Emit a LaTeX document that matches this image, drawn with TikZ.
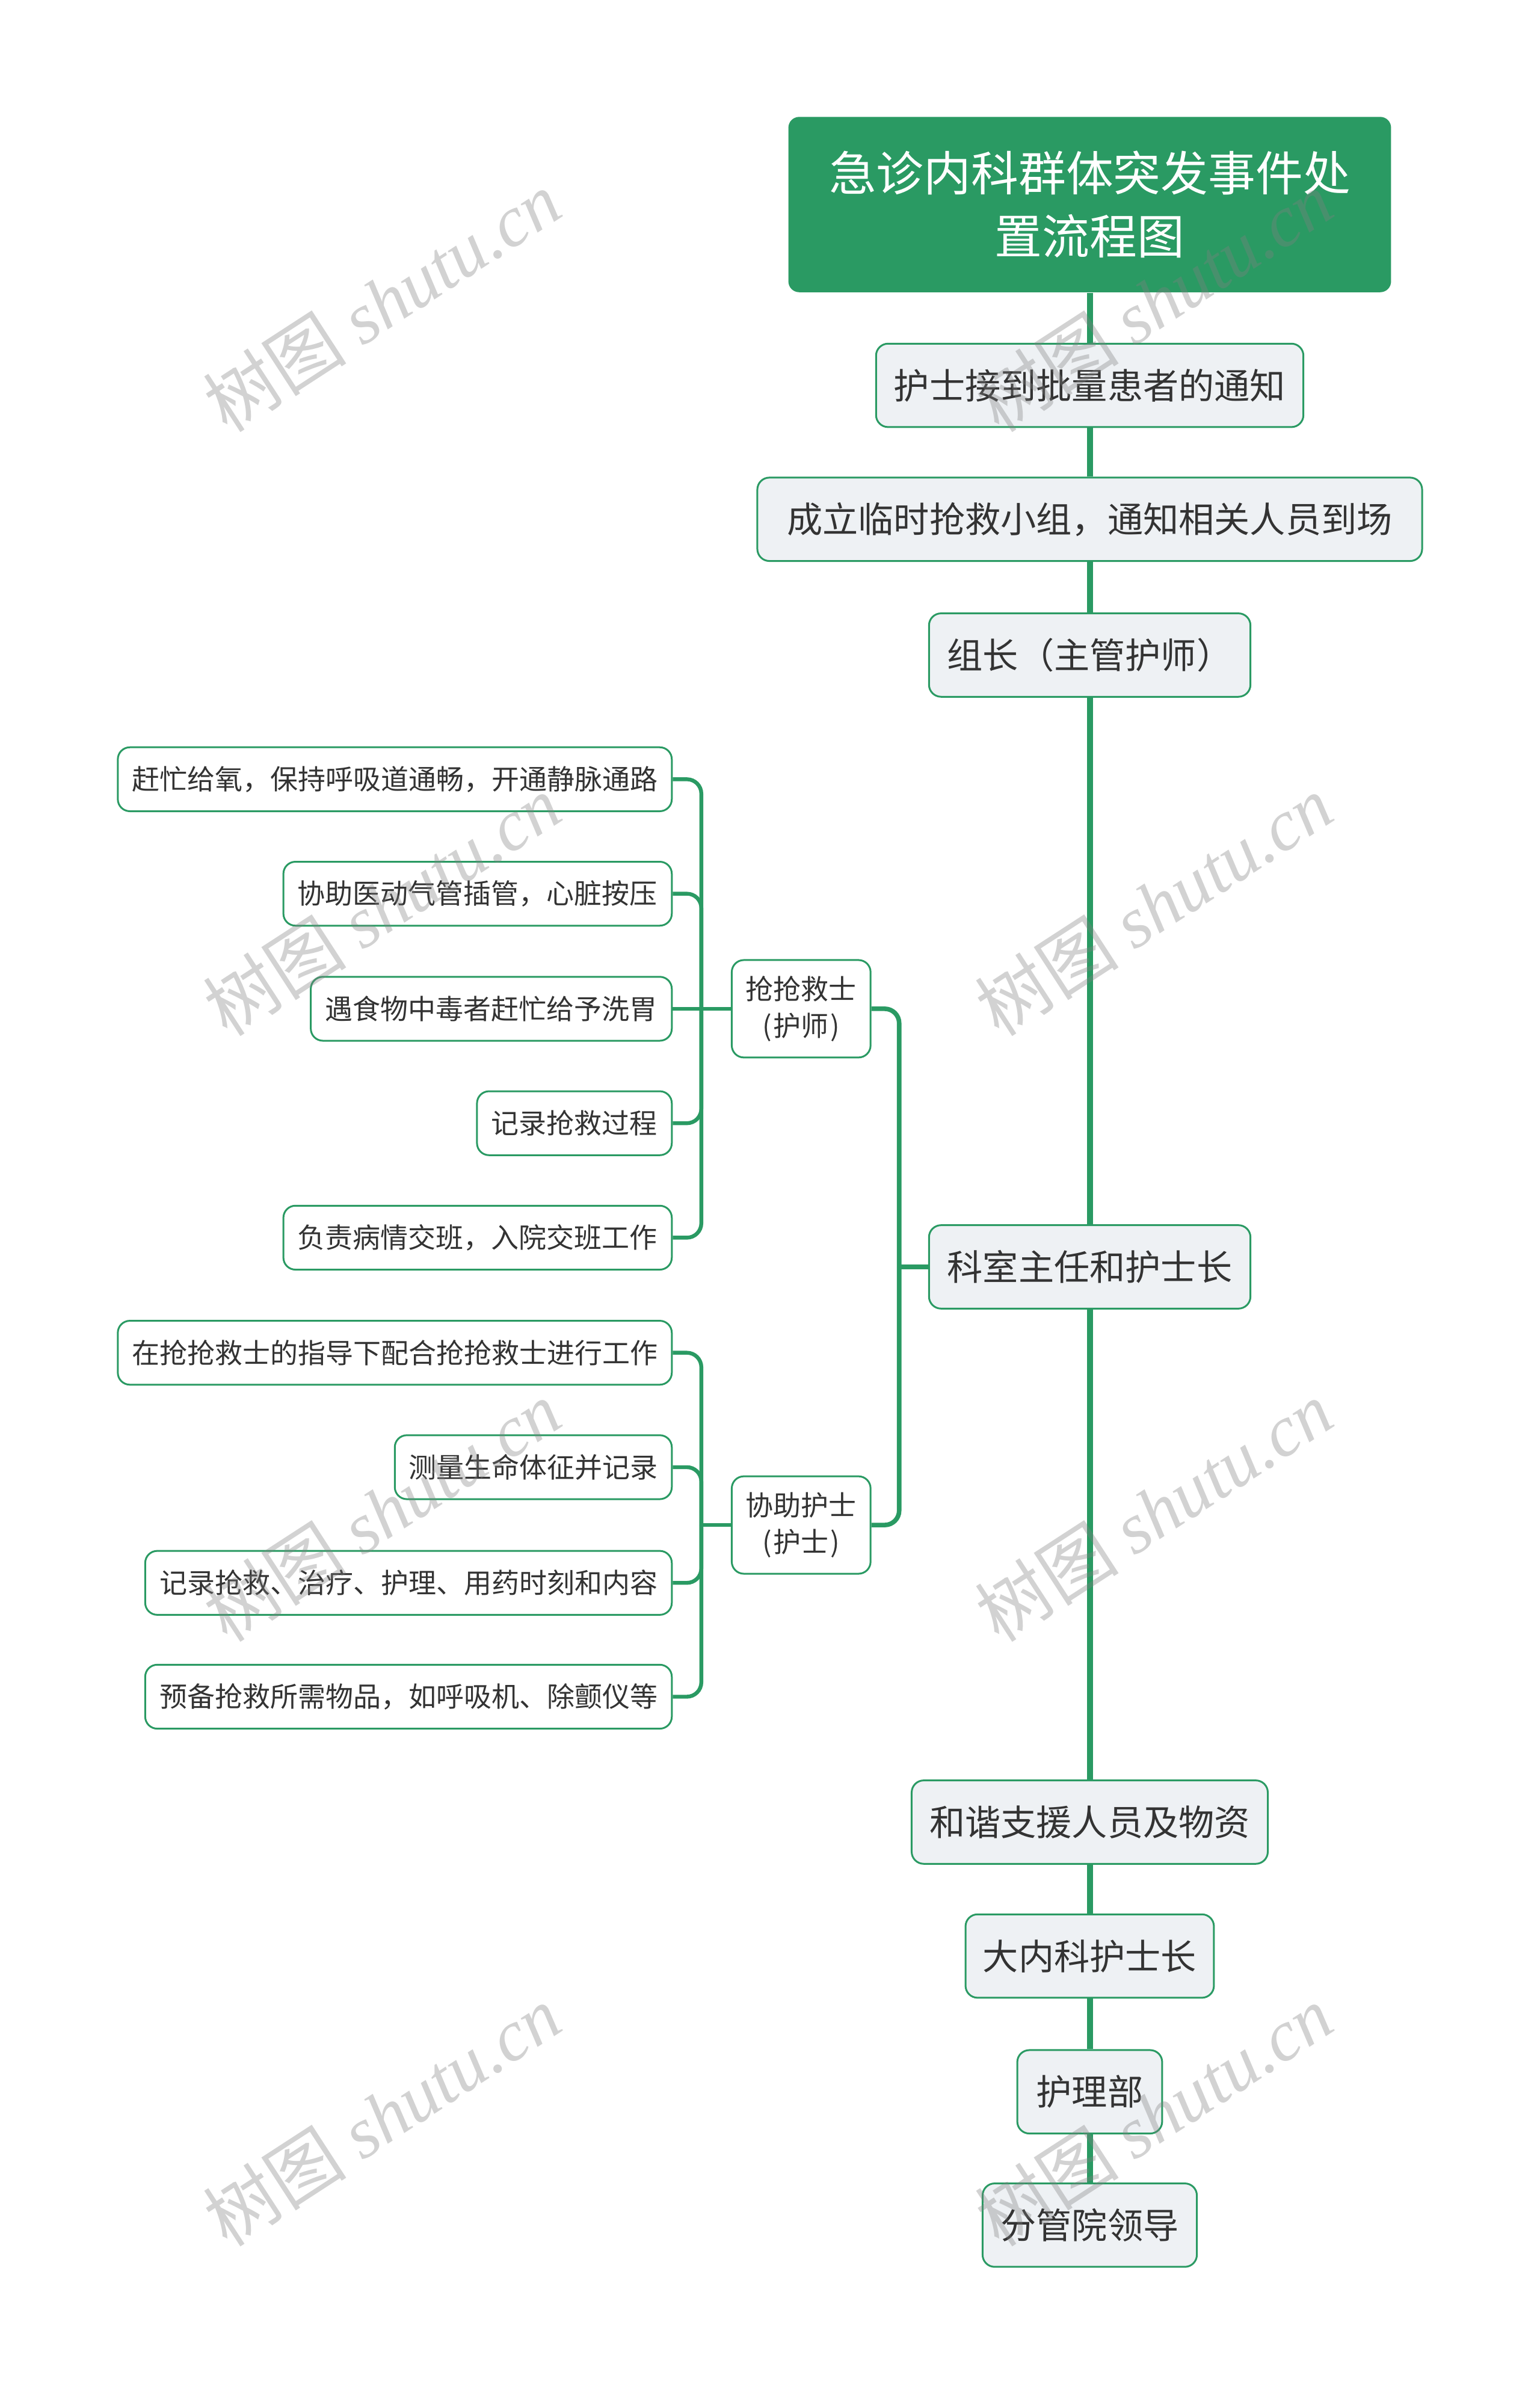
\documentclass[tikz,border=0pt]{standalone}
\usepackage{fontspec}
\setmainfont{Noto Sans CJK SC}
\newfontfamily\wmserif{Liberation Serif}
\newfontfamily\wmcjk{Noto Sans CJK SC}
\definecolor{tgreen}{HTML}{2A9A63}
\definecolor{tfill}{HTML}{EEF1F4}
\definecolor{ttext}{HTML}{333333}
\def\u{0.253pt}
\tikzset{
  rootbox/.style={fill=tgreen, draw=none, rounded corners=4.5pt, text=white, align=center,
    font=\fontsize{19.7pt}{26.3pt}\selectfont, minimum width=990*\u, minimum height=288*\u, inner sep=0pt},
  mainbox/.style={draw=tgreen, line width=0.75pt, fill=tfill, rounded corners=5pt, text=ttext,
    font=\fontsize{14.8pt}{18pt}\selectfont, minimum height=137*\u, inner sep=0pt},
  midbox/.style={draw=tgreen, line width=0.75pt, fill=white, rounded corners=5pt, text=ttext, align=center,
    font=\fontsize{11.5pt}{15.2pt}\selectfont, minimum width=228*\u, minimum height=160*\u, inner sep=0pt},
  leafbox/.style={draw=tgreen, line width=0.75pt, fill=white, rounded corners=5pt, text=ttext, anchor=east,
    font=\fontsize{11.5pt}{14pt}\selectfont, minimum height=105*\u, inner sep=0pt},
  trunk/.style={draw=tgreen, line width=2.5pt},
  branch/.style={draw=tgreen, line width=1.9pt},
  twig/.style={draw=tgreen, line width=1.6pt},
  wm/.style={rotate=33, text=gray, opacity=0.35, font=\fontsize{30pt}{32pt}\selectfont},
}
\begin{document}
\begin{tikzpicture}[x=0.253pt,y=-0.253pt]
\useasboundingbox (0,0) rectangle (2529.6,3916.0);
\fill[white] (0,0) rectangle (2529.6,3916.0);

% main chain nodes
\node[rootbox] (root) at (1790,336) {急诊内科群体突发事件处\\置流程图};
\node[mainbox, minimum width=702*\u] (n1) at (1790,633) {护士接到批量患者的通知};
\node[mainbox, minimum width=1092*\u] (n2) at (1790,853) {成立临时抢救小组，通知相关人员到场};
\node[mainbox, minimum width=528*\u] (n3) at (1790,1076) {组长（主管护师）};
\node[mainbox, minimum width=528*\u] (n4) at (1790,2081) {科室主任和护士长};
\node[mainbox, minimum width=585*\u] (n5) at (1790,2993) {和谐支援人员及物资};
\node[mainbox, minimum width=408*\u] (n6) at (1790,3213) {大内科护士长};
\node[mainbox, minimum width=238*\u] (n7) at (1790,3436) {护理部};
\node[mainbox, minimum width=352*\u] (n8) at (1790,3655) {分管院领导};

% second level
\node[midbox] (A) at (1316,1657) {抢抢救士\\(\kern0.06em护师\kern0.06em)};
\node[midbox] (B) at (1316,2505) {协助护士\\(\kern0.06em护士\kern0.06em)};

% leaves
\node[leafbox, minimum width=910*\u] (L1) at (1105,1280) {赶忙给氧，保持呼吸道通畅，开通静脉通路};
\node[leafbox, minimum width=638*\u] (L2) at (1105,1468) {协助医动气管插管，心脏按压};
\node[leafbox, minimum width=593*\u] (L3) at (1105,1657) {遇食物中毒者赶忙给予洗胃};
\node[leafbox, minimum width=320*\u] (L4) at (1105,1845) {记录抢救过程};
\node[leafbox, minimum width=638*\u] (L5) at (1105,2033) {负责病情交班，入院交班工作};
\node[leafbox, minimum width=910*\u] (M1) at (1105,2222) {在抢抢救士的指导下配合抢抢救士进行工作};
\node[leafbox, minimum width=455*\u] (M2) at (1105,2410) {测量生命体征并记录};
\node[leafbox, minimum width=865*\u] (M3) at (1105,2600) {记录抢救、治疗、护理、用药时刻和内容};
\node[leafbox, minimum width=865*\u] (M4) at (1105,2787) {预备抢救所需物品，如呼吸机、除颤仪等};

% trunk
\draw[trunk] (root.south) -- (n1.north);
\draw[trunk] (n1.south) -- (n2.north);
\draw[trunk] (n2.south) -- (n3.north);
\draw[trunk] (n3.south) -- (n4.north);
\draw[trunk] (n4.south) -- (n5.north);
\draw[trunk] (n5.south) -- (n6.north);
\draw[trunk] (n6.south) -- (n7.north);
\draw[trunk] (n7.south) -- (n8.north);

% branch from n4 to A and B
\coordinate (b4) at (1477,2081);
\draw[branch] (n4.west) -- (b4);
\draw[branch, rounded corners=6pt] (A.east) -| (b4);
\draw[branch, rounded corners=6pt] (B.east) -| (b4);

% twigs from A
\coordinate (bA) at (1152,1657);
\draw[twig] (A.west) -- (bA);
\draw[twig, rounded corners=6pt] (L1.east) -| (bA);
\draw[twig, rounded corners=6pt] (L2.east) -| (bA);
\draw[twig] (L3.east) -- (bA);
\draw[twig, rounded corners=6pt] (L4.east) -| (bA);
\draw[twig, rounded corners=6pt] (L5.east) -| (bA);

% twigs from B
\coordinate (bB) at (1152,2505);
\draw[twig] (B.west) -- (bB);
\draw[twig, rounded corners=6pt] (M1.east) -| (bB);
\draw[twig, rounded corners=6pt] (M2.east) -| (bB);
\draw[twig, rounded corners=6pt] (M3.east) -| (bB);
\draw[twig, rounded corners=6pt] (M4.east) -| (bB);

% watermarks
\foreach \i/\x/\y in {1/627/495, 2/1895/495, 3/627/1487, 4/1895/1487, 5/627/2482, 6/1895/2482, 7/627/3475, 8/1895/3475}{
  \node[wm] (wm\i) at (\x,\y) {{\wmcjk 树图} {\wmserif\itshape shutu.cn}};
}
\end{tikzpicture}
\end{document}
